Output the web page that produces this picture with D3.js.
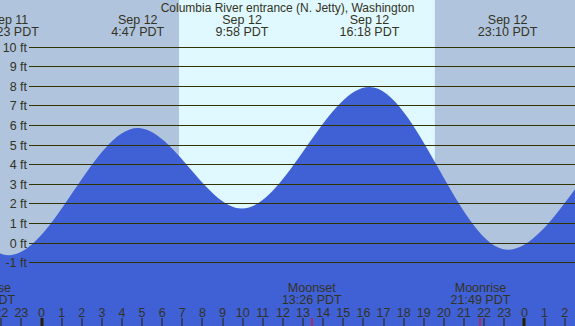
<!DOCTYPE html>
<html lang="en">
<head>
    <meta charset="UTF-8">
    <title>Columbia River entrance tide</title>
    <style>
        body, html {
          margin: 0;
          width: 100%;
          height: 100%;
          overflow: hidden;
        }
        svg {
          display: block;
        }
        text {
          font-family: "Liberation Sans", Arial, sans-serif;
          fill: #333322;
        }
        .grid line {
          stroke: #333300;
          stroke-width: 1px;
          shape-rendering: crispEdges;
        }
    </style>
</head>
<body>
    <svg></svg>

    <script src="https://d3js.org/d3.v7.min.js"></script>
    <script>
        const title = "Columbia River entrance (N. Jetty), Washington";

        // days of the chart, hours are counted from Sep 12 00:00
        const days = ["Sep 11", "Sep 12", "Sep 13"];

        // high / low tides (first and last ones lie outside the picture)
        const tideDays  = ["Sep 11", "Sep 11", "Sep 11", "Sep 12", "Sep 12", "Sep 12", "Sep 12", "Sep 13", "Sep 13"];
        const tideClock = ["9:50", "15:42", "22:23", "4:47", "9:58", "16:18", "23:10", "6:00", "11:10"];
        const tideFeet  = [1.5, 7.6, -0.65, 5.84, 1.73, 7.93, -0.37, 6.0, 2.0];

        // sun (for the day shading)
        const sunDays  = ["Sep 12", "Sep 12"];
        const sunClock = ["6:50", "19:33"];

        // moon events
        const moonDays  = ["Sep 11", "Sep 12", "Sep 12"];
        const moonClock = ["21:12", "13:26", "21:49"];
        const moonKind  = ["Moonrise", "Moonset", "Moonrise"];

        const ftTicks = [-1, 0, 1, 2, 3, 4, 5, 6, 7, 8, 9, 10];
        const hourTicks = d3.range(-2, 27);

        const width = 575, height = 326;

        function toHour(day, clock) {
            const p = clock.split(":");
            return (days.indexOf(day) - 1) * 24 + (+p[0]) + (+p[1]) / 60;
        }

        const tides = tideFeet.map((v, i) => ({
            h: toHour(tideDays[i], tideClock[i]),
            ft: v,
            day: tideDays[i],
            clock: tideClock[i]
        }));

        const x = d3.scaleLinear().domain([-41.5 / 20.12, (width - 41.5) / 20.12]).range([0, width]);
        const y = d3.scaleLinear().domain([0, 10]).range([242.5, 46.5]);

        const svg = d3.select("svg").attr("width", width).attr("height", height);

        // night / day background
        const sunrise = x(toHour(sunDays[0], sunClock[0]));
        const sunset = x(toHour(sunDays[1], sunClock[1]));
        svg.append("rect").attr("x", 0).attr("y", 0).attr("width", width).attr("height", height).attr("fill", "#b0c4de");
        svg.append("rect").attr("x", sunrise).attr("y", 0).attr("width", sunset - sunrise).attr("height", height).attr("fill", "#e0f8ff");

        // tide area
        const area = d3.area()
            .x(d => x(d.h))
            .y0(height)
            .y1(d => y(d.ft))
            .curve(d3.curveMonotoneX);

        svg.append("path")
            .datum(tides)
            .attr("d", area)
            .attr("fill", "#4060d6");

        // grid lines + feet labels
        const grid = svg.append("g").attr("class", "grid");
        grid.selectAll("line")
            .data(ftTicks)
            .enter().append("line")
            .attr("x1", 29)
            .attr("x2", width)
            .attr("y1", d => Math.round(y(d)) + 0.5)
            .attr("y2", d => Math.round(y(d)) + 0.5);

        svg.append("g").selectAll("text")
            .data(ftTicks)
            .enter().append("text")
            .attr("x", 27)
            .attr("y", d => Math.round(y(d)) + 5)
            .attr("text-anchor", "end")
            .attr("font-size", "12.5px")
            .text(d => d + " ft");

        // title
        svg.append("text")
            .attr("x", width / 2)
            .attr("y", 12)
            .attr("text-anchor", "middle")
            .attr("font-size", "12px")
            .text(title);

        // tide time labels (only for the tides inside the picture)
        const shown = tides.filter(d => x(d.h) > -40 && x(d.h) < width + 40);
        const tl = svg.append("g").selectAll("g")
            .data(shown)
            .enter().append("g")
            .attr("transform", d => `translate(${x(d.h)},0)`);
        tl.append("text")
            .attr("y", 24)
            .attr("text-anchor", "middle")
            .attr("font-size", "12.5px")
            .text(d => d.day);
        tl.append("text")
            .attr("y", 36)
            .attr("text-anchor", "middle")
            .attr("font-size", "12.5px")
            .text(d => d.clock + " PDT");

        // moon labels
        const moon = moonKind.map((k, i) => ({ kind: k, h: toHour(moonDays[i], moonClock[i]), clock: moonClock[i] }));
        const ml = svg.append("g").selectAll("g")
            .data(moon)
            .enter().append("g")
            .attr("transform", d => `translate(${x(d.h)},0)`);
        ml.append("text")
            .attr("y", 292)
            .attr("text-anchor", "middle")
            .attr("font-size", "12.5px")
            .text(d => d.kind);
        ml.append("text")
            .attr("y", 304)
            .attr("text-anchor", "middle")
            .attr("font-size", "12.5px")
            .text(d => d.clock + " PDT");

        // hour ticks
        svg.append("g").selectAll("text")
            .data(hourTicks)
            .enter().append("text")
            .attr("x", d => x(d))
            .attr("y", 316.5)
            .attr("text-anchor", "middle")
            .attr("font-size", "12.5px")
            .text(d => ((d % 24) + 24) % 24);

        svg.append("g").selectAll("rect")
            .data(hourTicks)
            .enter().append("rect")
            .attr("x", d => Math.round(x(d)) - (d % 24 === 0 ? 1.5 : 0.5))
            .attr("y", 318)
            .attr("width", d => d % 24 === 0 ? 3 : 1)
            .attr("height", 8)
            .attr("fill", "#222200");

        svg.append("g").selectAll("rect")
            .data(moon)
            .enter().append("rect")
            .attr("x", d => Math.round(x(d.h)) - 0.5)
            .attr("y", 318)
            .attr("width", 1)
            .attr("height", 8)
            .attr("fill", "#ff0000");
    </script>
</body>
</html>
